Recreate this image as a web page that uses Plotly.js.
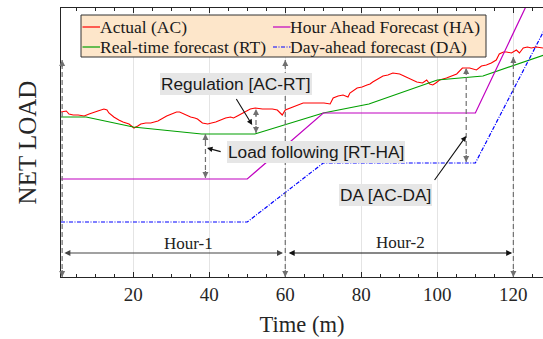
<!DOCTYPE html>
<html><head><meta charset="utf-8">
<script src="https://cdn.plot.ly/plotly-3.0.1.min.js"></script>
<style>html,body{margin:0;padding:0;background:#fff;}#chart{width:543px;height:339px;}</style>
</head><body><div id="chart"></div>
<script>
// ---- data (time in minutes, net load in arbitrary units) ----
const timeAC = [1,2.4,3.1,4.2,5.5,7.1,8.4,9.4,10.7,12.3,13.1,13.6,14.9,16.2,17.3,18.9,20.2,21.2,22.0,23.3,24.6,26.5,27.8,28.8,30.1,31.4,32.2,33.3,34.3,35.1,36.2,36.9,38.2,39.6,40.6,41.7,43.0,44.3,45.6,46.4,47.4,49.0,50.0,50.8,52.1,54.0,55.5,56.6,57.9,59.2,60.0,61.3,63.1,64.7,66.5,68.4,70.2,71.8,72.6,73.9,75.2,76.5,77.0,78.9,80.2,81.5,82.3,83.0,84.4,85.7,87.0,88.3,90.1,91.2,92.0,93.3,94.6,96.1,97.2,98.0,98.8,99.6,100.6,102.4,103.7,105.1,106.6,108.5,110.3,111.6,112.9,114.2,115.5,116.3,117.4,118.2,119.5,120.8,121.6,122.6,123.7,124.7,126.0,127.8];
const loadAC = [165,166,163,162,162,161,163,164,166,168,167,164,160,157,155,153,149,151,153,154,154,156,159,161,163,165,165,163,161,160,159,158,154,153,154,155,157,159,160,159,161,164,166,168,169,168,168,168,167,162,167,169,172,174,174,174,174,173,179,181,182,180,184,189,190,192,193,195,198,201,202,204,203,201,199,197,195,194,197,193,192,194,197,199,201,203,209,209,207,211,212,214,217,223,225,225,224,227,224,229,230,229,230,229];
const timeRT = [1,7.6,20,38,52,70,82,100,112,128];
const loadRT = [160,160,150,143,143,164,173,197,201,222];
const timeHA = [1,50,70,110,126];
const loadHA = [98,98,164,164,292];
const timeDA = [1,50,70,110,128];
const loadDA = [55,55,114,114,246];
const xTicks = [20,40,60,80,100,120];
const hourLabels = ['Hour-1','Hour-2'];
const seriesNames = ['Actual (AC)','Real-time forecast (RT)','Hour Ahead Forecast (HA)','Day-ahead forecast (DA)'];
const calloutLabels = ['Regulation [AC-RT]','Load following [RT-HA]','DA [AC-DA]'];

// ---- layout helpers ----
const W=543,H=339,L=61,T=8,R=0,B=62;
const PW=W-L-R, PH=H-T-B;
const pxX = p => (p-L)/PW;
const pxY = p => (H-B-p)/PH;
const SERIF='Liberation Serif, Times New Roman, serif';
const SANS='Liberation Sans, Arial, sans-serif';
const INK='#262626';
const colors=['#ff0000','#00a000','#c000c0','#0000ff'];
const dashes=['solid','solid','solid','4px,1.5px,1px,1.5px'];

const traces=[
 {x:timeAC,y:loadAC,name:seriesNames[0],mode:'lines',line:{color:colors[0],width:1.1}},
 {x:timeRT,y:loadRT,name:seriesNames[1],mode:'lines',line:{color:colors[1],width:1.2}},
 {x:timeHA,y:loadHA,name:seriesNames[2],mode:'lines',line:{color:colors[2],width:1.2}},
 {x:timeDA,y:loadDA,name:seriesNames[3],mode:'lines',line:{color:colors[3],width:1.2,dash:dashes[3]}}
].map(t=>Object.assign(t,{showlegend:false,hoverinfo:'skip'}));

const GRAY='#707070';
const shapes=[];
const annotations=[];
function head(x,y,up,color){
  annotations.push({x:x,y:y,xref:'x',yref:'y',ax:0,ay:up?9:-9,text:' ',font:{size:1},
    showarrow:true,arrowhead:2,arrowsize:1,arrowwidth:1.2,arrowcolor:color,standoff:0});
}
// dashed vertical double arrows
[[1.3,0,217],[60,0,217],[120,0,220],[52.3,144,168],[39,99,143],[107.6,115,209]].forEach(v=>{
  shapes.push({type:'line',xref:'x',yref:'y',x0:v[0],x1:v[0],y0:v[1],y1:v[2],line:{color:GRAY,width:1.2,dash:'5px,3px'},layer:'above'});
  head(v[0],v[2],true,GRAY);
  head(v[0],v[1],false,GRAY);
});
// hour spans
[[1.5,59.4,'#444'],[60.5,119.7,'#111']].forEach((h,i)=>{
  annotations.push({x:h[1],y:24,ax:h[0],ay:24,xref:'x',yref:'y',axref:'x',ayref:'y',text:' ',font:{size:1},
    showarrow:true,arrowhead:2,startarrowhead:2,arrowside:'end+start',arrowsize:1,startarrowsize:1,arrowwidth:1.2,arrowcolor:h[2],standoff:0,startstandoff:0});
});
annotations.push({x:34.6,y:34,xref:'x',yref:'y',text:hourLabels[0],showarrow:false,font:{family:SERIF,size:17,color:'#222'}});
annotations.push({x:90.2,y:35,xref:'x',yref:'y',text:hourLabels[1],showarrow:false,font:{family:SERIF,size:17,color:'#222'}});
// callout labels
[[47.05,193],[68.1,125],[86.4,82]].forEach((c,i)=>{
  annotations.push({x:c[0],y:c[1],xref:'x',yref:'y',text:calloutLabels[i],showarrow:false,
    font:{family:SANS,size:17.3,color:'#1a1a1a'},bgcolor:'#e6e6e6',borderpad:1,borderwidth:0});
});
// callout pointers
[[46.8,180,51.3,152],[43.4,125,39.4,129],[98.9,95,107.6,141]].forEach(a=>{
  annotations.push({x:a[2],y:a[3],ax:a[0],ay:a[1],xref:'x',yref:'y',axref:'x',ayref:'y',text:' ',font:{size:1},
    showarrow:true,arrowhead:2,arrowsize:1,arrowwidth:1.1,arrowcolor:'#111',standoff:0});
});
// legend box (manual, two columns)
shapes.push({type:'rect',xref:'paper',yref:'paper',x0:pxX(81),x1:pxX(486),y0:pxY(57),y1:pxY(15),
  fillcolor:'#fde6ca',line:{color:'#333',width:1},layer:'above'});
const legPos=[[82.5,27],[82.5,47],[273,27],[273,47]];
legPos.forEach((p,i)=>{
  shapes.push({type:'line',xref:'paper',yref:'paper',x0:pxX(p[0]),x1:pxX(p[0]+17.5),y0:pxY(p[1]),y1:pxY(p[1]),
    line:{color:colors[i],width:1.2,dash:dashes[i]},layer:'above'});
  annotations.push({x:pxX(p[0]+17),y:pxY(p[1]),xref:'paper',yref:'paper',xanchor:'left',yanchor:'middle',
    text:seriesNames[i],showarrow:false,font:{family:SERIF,size:17.5,color:'#1a1a1a'},borderpad:0,borderwidth:0});
});

const layout={
  width:W,height:H,margin:{l:L,r:R,t:T,b:B},
  paper_bgcolor:'#fff',plot_bgcolor:'#fff',
  xaxis:{range:[1,127.8],tickmode:'array',tickvals:xTicks,ticks:'inside',ticklen:5,tickwidth:1,tickcolor:INK,
    showline:true,linecolor:INK,linewidth:1,mirror:'ticks',showgrid:true,gridcolor:'#e4e4e4',gridwidth:1,zeroline:false,
    minor:{tickmode:'linear',tick0:0,dtick:5,ticks:'inside',ticklen:3,tickcolor:INK,showgrid:false},
    tickfont:{family:SERIF,size:19,color:INK},
    title:{text:'Time (m)\u00a0\u00a0\u00a0',font:{family:SERIF,size:22.5,color:INK},standoff:12}},
  yaxis:{range:[0,269],showticklabels:false,ticks:'',showline:true,linecolor:INK,linewidth:1,showgrid:false,zeroline:false,
    title:{text:'NET LOAD',font:{family:SERIF,size:25,color:INK},standoff:16}},
  shapes:shapes,annotations:annotations
};
Plotly.newPlot('chart',traces,layout,{staticPlot:true,displayModeBar:false});
</script></body></html>
